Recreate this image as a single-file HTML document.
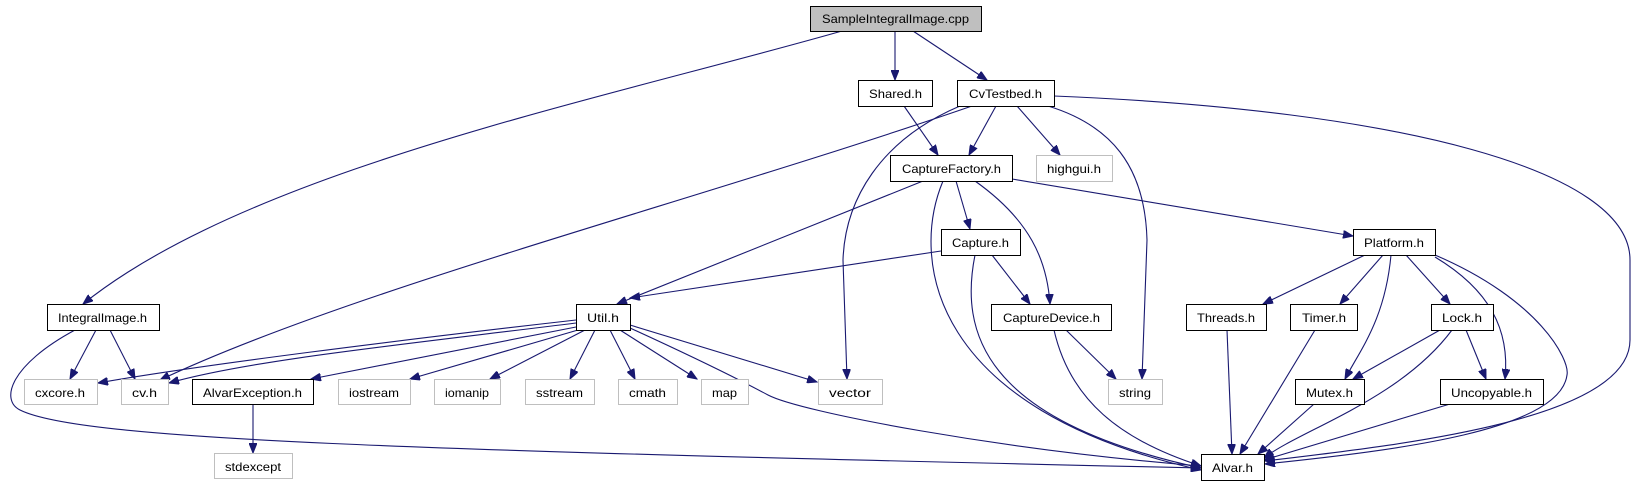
<!DOCTYPE html>
<html><head><meta charset="utf-8"><style>
html,body{margin:0;padding:0;background:#fff;}
svg{display:block;}
text{font-family:"Liberation Sans",sans-serif;font-size:12px;fill:#000;}
.e{fill:none;stroke:#191970;stroke-width:1.1;}
.n{fill:#fff;stroke:#000;stroke-width:1;}
.g{fill:#fff;stroke:#bfbfbf;stroke-width:1;}
</style></head><body>
<svg width="1637" height="485" viewBox="0 0 1637 485" xmlns="http://www.w3.org/2000/svg">
<defs>
<marker id="a" markerWidth="11" markerHeight="8" refX="10" refY="4" orient="auto" markerUnits="userSpaceOnUse">
<path d="M0,0 L10,4 L0,8 Z" fill="#191970" stroke="#191970"/>
</marker>
</defs>
<g marker-end="url(#a)">
<path class="e" d="M842,31 C600,100 250,170 83,304"/>
<path class="e" d="M895,31 L895,80"/>
<path class="e" d="M913,31 L987,80"/>
<path class="e" d="M904,106 L938,155"/>
<path class="e" d="M996,106 L969,155"/>
<path class="e" d="M1017,106 L1060,155"/>
<path class="e" d="M972,106 C700,200 350,290 160,380"/>
<path class="e" d="M960,106 C880,140 845,200 843,260 L847,379"/>
<path class="e" d="M1048,106 C1110,125 1145,165 1147,240 L1142,379"/>
<path class="e" d="M1054,96 C1400,110 1630,170 1630,260 L1630,340 C1630,420 1400,445 1265,461"/>
<path class="e" d="M923,181 L617,304"/>
<path class="e" d="M956,181 L970,229"/>
<path class="e" d="M975,181 C1030,220 1047,260 1050,304"/>
<path class="e" d="M1012,179 L1353,236"/>
<path class="e" d="M943,181 C910,260 930,410 1201,470"/>
<path class="e" d="M941,251 L630,298"/>
<path class="e" d="M992,255 L1030,304"/>
<path class="e" d="M975,255 C960,330 980,420 1201,468"/>
<path class="e" d="M1066,330 L1116,379"/>
<path class="e" d="M1054,330 C1070,400 1120,440 1201,466"/>
<path class="e" d="M1365,255 L1263,304"/>
<path class="e" d="M1383,255 L1340,304"/>
<path class="e" d="M1406,255 L1450,304"/>
<path class="e" d="M1391,255 C1385,320 1360,350 1345,379"/>
<path class="e" d="M1435,257 C1490,290 1510,330 1505,379"/>
<path class="e" d="M1435,255 C1540,300 1570,360 1567,375 C1560,430 1400,450 1265,464"/>
<path class="e" d="M1227,330 L1232,454"/>
<path class="e" d="M1315,330 L1240,454"/>
<path class="e" d="M1440,330 L1353,379"/>
<path class="e" d="M1466,330 L1486,379"/>
<path class="e" d="M1452,330 C1400,400 1300,430 1264,458"/>
<path class="e" d="M1314,404 L1258,454"/>
<path class="e" d="M1450,404 L1264,460"/>
<path class="e" d="M96,330 L70,379"/>
<path class="e" d="M110,330 L135,379"/>
<path class="e" d="M75,330 C10,365 0,400 20,410 C80,440 400,450 1201,468"/>
<path class="e" d="M576,320 C400,340 200,365 98,383"/>
<path class="e" d="M576,323 C400,345 250,360 169,383"/>
<path class="e" d="M576,327 L311,379"/>
<path class="e" d="M578,330 L410,379"/>
<path class="e" d="M585,330 L490,379"/>
<path class="e" d="M595,330 L570,379"/>
<path class="e" d="M610,330 L635,379"/>
<path class="e" d="M620,330 L697,379"/>
<path class="e" d="M630,325 L817,382"/>
<path class="e" d="M630,328 C700,360 740,380 768,395 C800,412 1000,450 1201,466"/>
<path class="e" d="M253,404 L253,453"/>
</g>
<rect x="810.5" y="6.5" width="171" height="25" fill="#bfbfbf" stroke="#000"/>
<text x="822" y="23" textLength="147" lengthAdjust="spacingAndGlyphs">SampleIntegralImage.cpp</text>
<rect class="n" x="858.5" y="80.5" width="74" height="26"/><text x="869" y="98" textLength="53" lengthAdjust="spacingAndGlyphs">Shared.h</text>
<rect class="n" x="957.5" y="80.5" width="97" height="26"/><text x="969" y="98" textLength="73" lengthAdjust="spacingAndGlyphs">CvTestbed.h</text>
<rect class="n" x="890.5" y="155.5" width="122" height="26"/><text x="902" y="173" textLength="99" lengthAdjust="spacingAndGlyphs">CaptureFactory.h</text>
<rect class="g" x="1036.5" y="155.5" width="76" height="26"/><text x="1047" y="173" textLength="54" lengthAdjust="spacingAndGlyphs">highgui.h</text>
<rect class="n" x="941.5" y="229.5" width="79" height="26"/><text x="952" y="247" textLength="57" lengthAdjust="spacingAndGlyphs">Capture.h</text>
<rect class="n" x="1353.5" y="229.5" width="82" height="26"/><text x="1364" y="247" textLength="60" lengthAdjust="spacingAndGlyphs">Platform.h</text>
<rect class="n" x="47.5" y="304.5" width="112" height="26"/><text x="58" y="322" textLength="89" lengthAdjust="spacingAndGlyphs">IntegralImage.h</text>
<rect class="n" x="576.5" y="304.5" width="54" height="26"/><text x="587" y="322" textLength="32" lengthAdjust="spacingAndGlyphs">Util.h</text>
<rect class="n" x="991.5" y="304.5" width="120" height="26"/><text x="1003" y="322" textLength="97" lengthAdjust="spacingAndGlyphs">CaptureDevice.h</text>
<rect class="n" x="1186.5" y="304.5" width="80" height="26"/><text x="1197" y="322" textLength="58" lengthAdjust="spacingAndGlyphs">Threads.h</text>
<rect class="n" x="1290.5" y="304.5" width="67" height="26"/><text x="1302" y="322" textLength="44" lengthAdjust="spacingAndGlyphs">Timer.h</text>
<rect class="n" x="1431.5" y="304.5" width="62" height="26"/><text x="1442" y="322" textLength="40" lengthAdjust="spacingAndGlyphs">Lock.h</text>
<rect class="g" x="24.5" y="379.5" width="73" height="25"/><text x="35" y="397" textLength="50" lengthAdjust="spacingAndGlyphs">cxcore.h</text>
<rect class="g" x="121.5" y="379.5" width="47" height="25"/><text x="132" y="397" textLength="25" lengthAdjust="spacingAndGlyphs">cv.h</text>
<rect class="n" x="192.5" y="379.5" width="121" height="25"/><text x="203" y="397" textLength="99" lengthAdjust="spacingAndGlyphs">AlvarException.h</text>
<rect class="g" x="338.5" y="379.5" width="72" height="25"/><text x="349" y="397" textLength="50" lengthAdjust="spacingAndGlyphs">iostream</text>
<rect class="g" x="434.5" y="379.5" width="66" height="25"/><text x="445" y="397" textLength="44" lengthAdjust="spacingAndGlyphs">iomanip</text>
<rect class="g" x="525.5" y="379.5" width="69" height="25"/><text x="536" y="397" textLength="47" lengthAdjust="spacingAndGlyphs">sstream</text>
<rect class="g" x="618.5" y="379.5" width="59" height="25"/><text x="629" y="397" textLength="37" lengthAdjust="spacingAndGlyphs">cmath</text>
<rect class="g" x="701.5" y="379.5" width="47" height="25"/><text x="712" y="397" textLength="25" lengthAdjust="spacingAndGlyphs">map</text>
<rect class="g" x="818.5" y="379.5" width="64" height="25"/><text x="829" y="397" textLength="42" lengthAdjust="spacingAndGlyphs">vector</text>
<rect class="g" x="1108.5" y="379.5" width="54" height="25"/><text x="1119" y="397" textLength="32" lengthAdjust="spacingAndGlyphs">string</text>
<rect class="n" x="1295.5" y="379.5" width="69" height="25"/><text x="1306" y="397" textLength="47" lengthAdjust="spacingAndGlyphs">Mutex.h</text>
<rect class="n" x="1440.5" y="379.5" width="103" height="25"/><text x="1451" y="397" textLength="81" lengthAdjust="spacingAndGlyphs">Uncopyable.h</text>
<rect class="g" x="214.5" y="453.5" width="78" height="25"/><text x="225" y="471" textLength="56" lengthAdjust="spacingAndGlyphs">stdexcept</text>
<rect class="n" x="1201.5" y="454.5" width="63" height="26"/><text x="1212" y="472" textLength="41" lengthAdjust="spacingAndGlyphs">Alvar.h</text>
</svg>
</body></html>
